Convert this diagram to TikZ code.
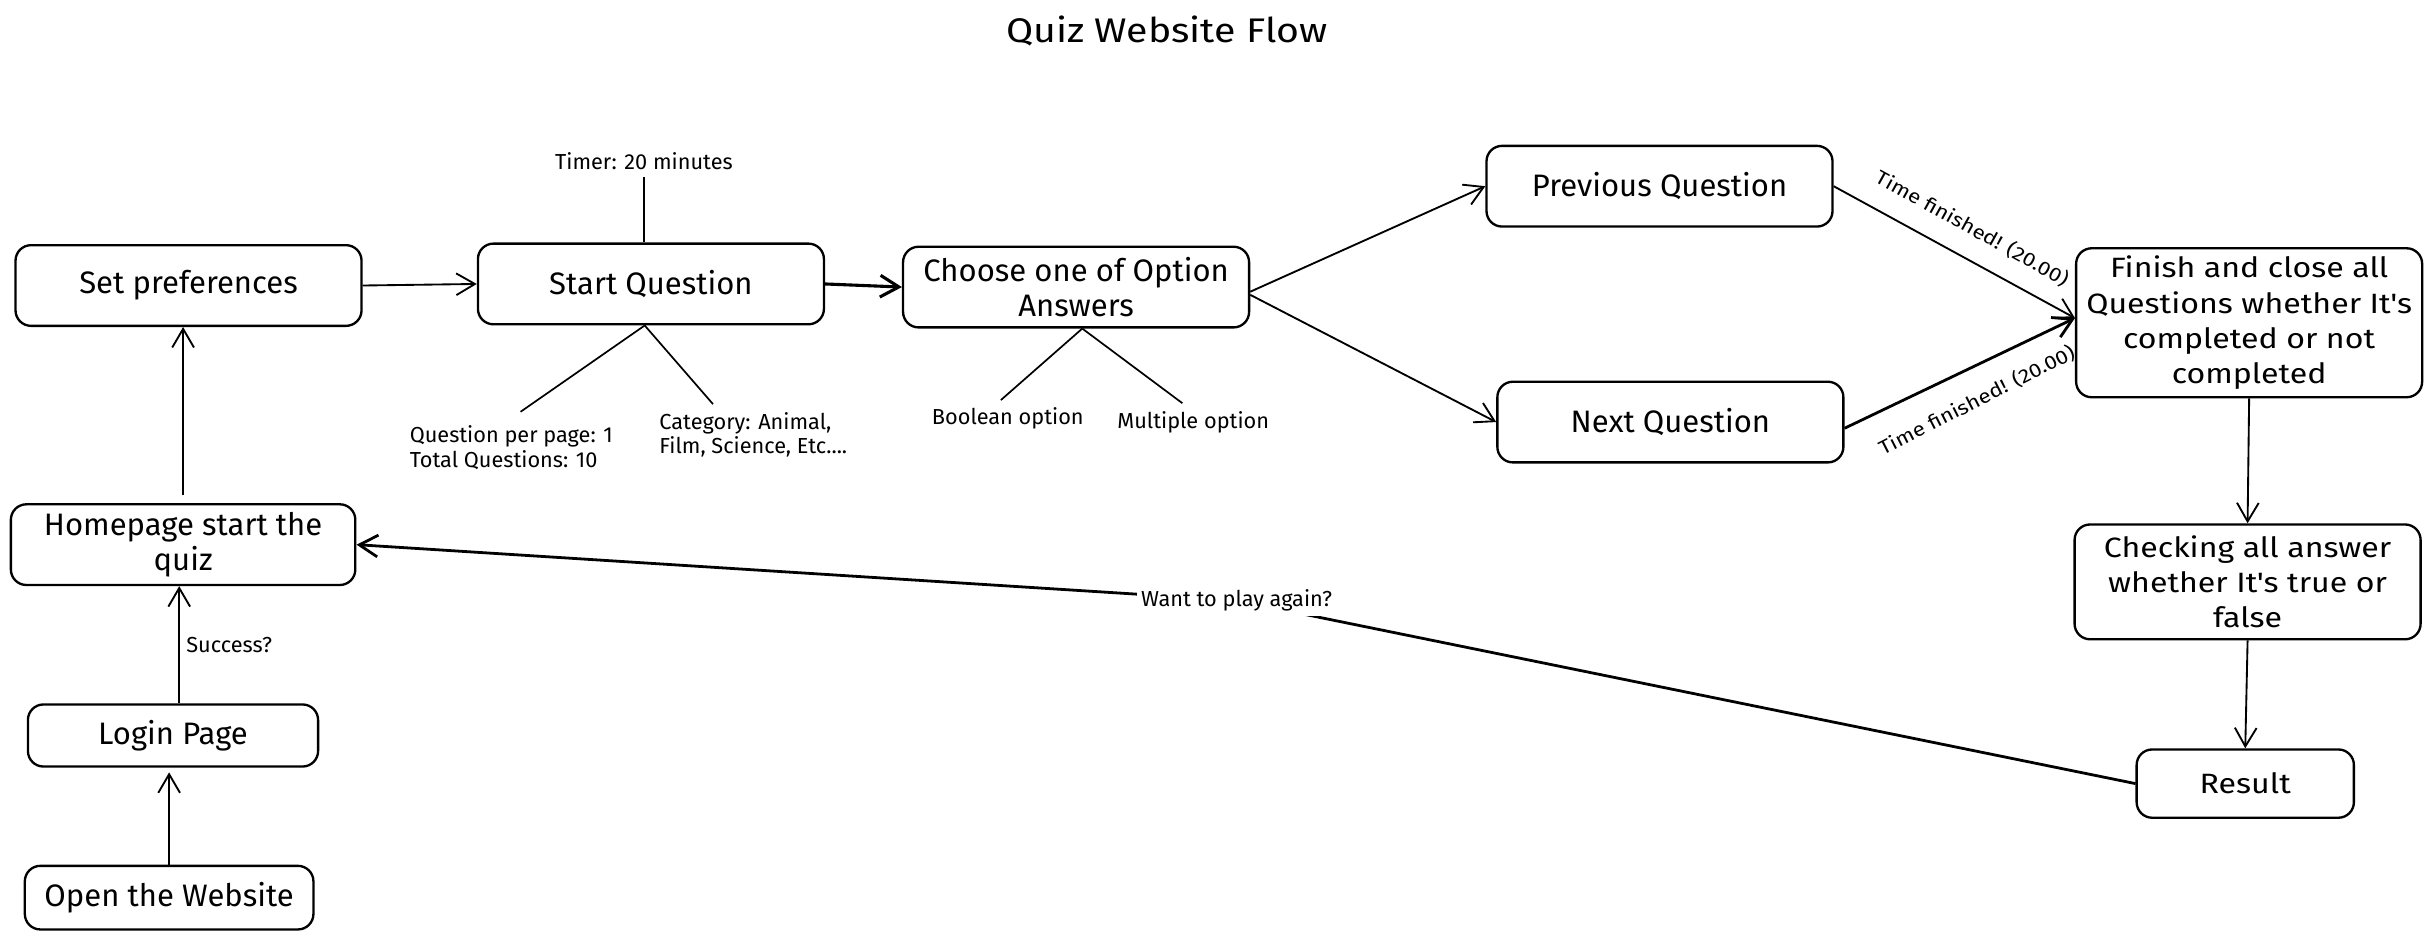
\documentclass[tikz,border=0pt]{standalone}
\usepackage{fontspec}
\setmainfont{Fira Sans}
\newfontfamily\virgil[FakeStretch=1.15]{Fira Sans}
\usetikzlibrary{arrows.meta,calc}
\tikzset{
  box/.style={draw, line width=1.5pt, rounded corners=10pt, inner sep=0pt, align=center,
    font=\fontsize{20}{22}\selectfont},
  vbox/.style={box, font=\virgil\fontsize{18}{22.7}\selectfont},
  note/.style={inner sep=0pt, align=left, font=\fontsize{14}{15.5}\selectfont},
  vnote/.style={inner sep=0pt, font=\virgil\fontsize{12.5}{14}\selectfont},
  conn/.style={line width=1.2pt, -{Straight Barb[length=12pt,width=14pt]}},
  noteline/.style={line width=1.1pt}
}
\begin{document}
\begin{tikzpicture}[x=1pt,y=-1pt]
\useasboundingbox[fill=white] (0,0) rectangle (1568,606);
\node[font=\virgil\fontsize{22}{26}\selectfont] (title) at (752,20) {Quiz Website Flow};

\node[box, minimum width=223pt, minimum height=52pt] (setp) at (121.5,184) {Set preferences};
\node[box, minimum width=223pt, minimum height=52pt] (startq) at (419.5,183) {Start Question};
\node[box, minimum width=223pt, minimum height=52pt] (choose) at (693.5,185) {Choose one of Option\\Answers};
\node[box, minimum width=223pt, minimum height=52pt] (prev) at (1069.5,120) {Previous Question};
\node[box, minimum width=223pt, minimum height=52pt] (next) at (1076.5,272) {Next Question};
\node[vbox, minimum width=223pt, minimum height=96pt] (finish) at (1449.5,208) {Finish and close all\\Questions whether It's\\completed or not\\completed};
\node[vbox, minimum width=223pt, minimum height=74pt] (check) at (1448.5,375) {Checking all answer\\whether It's true or\\false};
\node[vbox, minimum width=140pt, minimum height=44pt] (result) at (1447,505) {Result};
\node[box, minimum width=222pt, minimum height=52pt] (home) at (118,351) {Homepage start the\\quiz};
\node[box, minimum width=187pt, minimum height=40pt] (login) at (111.5,474) {Login Page};
\node[box, minimum width=186pt, minimum height=41pt] (open) at (109,578.5) {Open the Website};

\node[note] (timer) at (415,104) {Timer: 20 minutes};
\node[note] (qpp) at (329.5,288.5) {Question per page: 1\\Total Questions: 10};
\node[note] (cat) at (485.5,280) {Category: Animal,\\Film, Science, Etc....};
\node[note] (bool) at (649.5,269.5) {Boolean option};
\node[note] (mult) at (769,272) {Multiple option};

\draw[noteline] ([yshift=-4pt]timer.south) -- (timer.south |- startq.north);
\draw[noteline] ([xshift=-4pt]startq.south) -- ([xshift=6pt,yshift=9pt]qpp.north);
\draw[noteline] ([xshift=-4pt]startq.south) -- ([xshift=-26pt,yshift=5pt]cat.north);
\draw[noteline] ([xshift=4pt]choose.south) -- ([xshift=-4.5pt,yshift=4.5pt]bool.north);
\draw[noteline] ([xshift=4pt]choose.south) -- ([xshift=-7pt,yshift=5pt]mult.north);

\draw[conn, shorten >=3pt] (open.north) -- (open.north |- login.south);
\draw[conn] ([xshift=4pt]login.north) -- ([xshift=4pt]login.north |- home.south)
  node[midway, note, right=4pt] (succ) {Success?};
\draw[conn, shorten <=5pt] (home.north) -- (home.north |- setp.south);
\draw[conn] (setp.east) -- (startq.west);
\draw[conn, line width=2pt] (startq.east) -- (choose.west);
\draw[conn] ([yshift=-3pt]choose.east) -- (prev.west);
\draw[conn] ([yshift=-5pt]choose.east) -- (next.west);
\draw[conn] (prev.east) -- ([yshift=3pt]finish.west);
\draw[conn, line width=1.8pt] ([yshift=-4pt]next.east) -- ([yshift=3pt]finish.west);
\draw[conn] (finish.south) -- (check.north);
\draw[conn] (check.south) -- (result.north);
\draw[conn, line width=1.8pt] (result.west) -- (797,387)
  node[note, fill=white, inner sep=3pt] (again) {Want to play again?} -- (home.east);

\node[vnote, rotate=-29] (tf1) at (1271,147) {Time finished! (20.00)};
\node[vnote, rotate=27] (tf2) at (1274,258) {Time finished! (20.00)};
\end{tikzpicture}
\end{document}
